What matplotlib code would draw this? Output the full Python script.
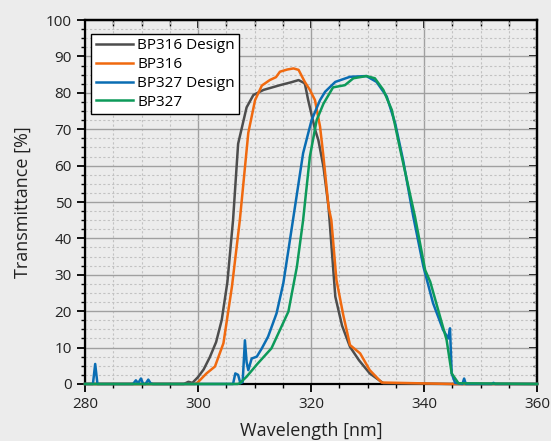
import matplotlib
matplotlib.use("Agg")
import matplotlib.pyplot as plt
from matplotlib.ticker import MultipleLocator

plt.rcParams["font.family"] = ["Open Sans", "DejaVu Sans"]

# BP316 Design (gray)
wl_316d = [280, 297.5, 298.3, 299.0, 300, 301, 302.1, 303.2, 304.2, 305.2, 306.2, 307.1,
           308.6, 309.8, 311.6, 314.5, 316.5, 317.8, 318.9, 319.5, 320.7, 321.3, 322.2,
           323.1, 324.3, 325.5, 326.9, 328.5, 330.4, 332.8, 345, 360]
t_316d = [0, 0, 0.6, 0.3, 1.9, 4.0, 7.4, 11.5, 17.6, 28, 45, 66,
          76, 79.4, 80.8, 82.1, 82.9, 83.5, 82.6, 78, 70, 67, 59.7,
          48.7, 24, 16, 10.2, 6.5, 2.9, 0.2, 0, 0]

# BP316 (orange)
wl_316 = [280, 299.5, 300, 301.5, 303, 304.5, 306, 307.4, 308.9, 310.1, 311.3, 312.7,
          313.8, 314.5, 315.8, 316.9, 317.8, 318.9, 319.8, 320.7, 321.6, 322.2, 323.1,
          323.6, 324.5, 325.7, 326.9, 328.7, 330.4, 332.5, 345, 360]
t_316 = [0, 0, 0.5, 2.9, 4.8, 11.2, 26.7, 45, 69, 78, 82, 83.5,
         84.3, 85.8, 86.4, 86.7, 86.3, 83, 80.8, 78, 70.7, 62.5, 48.7,
         45, 28.6, 19, 10.7, 8.4, 3.8, 0.4, 0, 0]

# BP327 Design (blue), with measurement noise spikes
wl_327d = [280, 281.4, 281.8, 282.2, 288.5, 289, 289.4, 289.9, 290.3, 290.7, 291.2,
           291.6, 292.0, 306.2, 306.6, 307.1, 307.5, 307.9, 308.3, 308.6, 308.9,
           309.5, 310.4, 311.3, 312.4, 313.9, 315.1, 316.0, 316.9, 318.6, 320.1,
           321.6, 322.5, 324.3, 326.9, 329.8, 331.6, 333.4, 334.9, 336.3, 338.1,
           339.9, 341.6, 343.4, 344.3, 344.6, 344.9, 345.5, 346.8, 347.1, 347.4,
           352, 352.3, 352.6, 360]
t_327d = [0, 0, 5.5, 0, 0, 1.0, 0.2, 1.5, 0, 0, 1.2,
          0.2, 0, 0, 2.9, 2.5, 0.2, 0.5, 12, 6, 3.8,
          7, 7.5, 9.8, 13, 19.4, 27.7, 36.8, 46, 63.4, 72.5,
          78, 80.3, 83, 84.4, 84.6, 83, 79, 71.6, 61.5, 46,
          32.2, 22.2, 14.8, 12.5, 15.3, 2.9, 0.3, 0, 1.5, 0,
          0, 0.3, 0, 0]

# BP327 (green)
wl_327 = [280, 307.0, 307.4, 308.6, 310.5, 313, 316, 317.5, 318.6, 319.8, 321,
          322.2, 323.9, 326, 327.5, 329.8, 331.3, 332.8, 334.3, 335.8, 338.4,
          340.2, 341.1, 344.0, 344.9, 346.1, 360]
t_327 = [0, 0, 0.2, 2, 5.5, 9.8, 19.9, 32.2, 45, 62.5, 72.5,
         77, 81.5, 82.1, 84, 84.6, 84, 80.8, 75.3, 64.3, 46,
         31.3, 28.1, 12.1, 2.9, 0.2, 0]

bg = "#ececec"
fig = plt.figure(figsize=(5.51, 4.41), dpi=100, facecolor=bg)
ax = fig.add_axes([0.1543, 0.1293, 0.8203, 0.8253], facecolor=bg)

ax.plot(wl_316d, t_316d, color="#4d4d4d", lw=1.8, label="BP316 Design", clip_on=False, zorder=3)
ax.plot(wl_316, t_316, color="#f0690f", lw=1.8, label="BP316", clip_on=False, zorder=3)
ax.plot(wl_327d, t_327d, color="#0a6db3", lw=1.8, label="BP327 Design", clip_on=False, zorder=3)
ax.plot(wl_327, t_327, color="#0d9a5a", lw=1.8, label="BP327", clip_on=False, zorder=3)

ax.set_xlim(280, 360)
ax.set_ylim(0, 100)
ax.xaxis.set_major_locator(MultipleLocator(20))
ax.xaxis.set_minor_locator(MultipleLocator(5))
ax.yaxis.set_major_locator(MultipleLocator(10))
ax.yaxis.set_minor_locator(MultipleLocator(2.5))

ax.grid(True, which="major", color="#a0a0a0", lw=1.0, ls="-")
ax.grid(True, which="minor", color="#c2c2c2", lw=0.8, ls=(0, (2, 2)))
ax.set_axisbelow(True)

for s in ax.spines.values():
    s.set_linewidth(1.6)
    s.set_color("black")

ax.tick_params(which="major", direction="out", length=6, width=1.3, labelsize=11, colors="black",
               labelcolor="#222222")
ax.tick_params(which="minor", direction="out", length=3, width=1.0)

# inward ticks on top and right
top = ax.secondary_xaxis("top")
top.xaxis.set_major_locator(MultipleLocator(20))
top.xaxis.set_minor_locator(MultipleLocator(5))
top.tick_params(which="major", direction="in", length=6, width=1.3, labeltop=False)
top.tick_params(which="minor", direction="in", length=4, width=1.0)
top.spines["top"].set_linewidth(1.6)
right = ax.secondary_yaxis("right")
right.yaxis.set_major_locator(MultipleLocator(10))
right.yaxis.set_minor_locator(MultipleLocator(2.5))
right.tick_params(which="major", direction="in", length=6, width=1.3, labelright=False)
right.tick_params(which="minor", direction="in", length=3, width=1.0)
right.spines["right"].set_linewidth(1.6)

ax.set_xlabel("Wavelength [nm]", fontsize=13, labelpad=7, color="#222222")
ax.set_ylabel("Transmittance [%]", fontsize=13, labelpad=10, color="#222222")

leg = ax.legend(loc="upper left", bbox_to_anchor=(0.004, 0.975), fontsize=11, frameon=True,
                fancybox=False, framealpha=1, edgecolor="black", handlelength=2.4,
                borderpad=0.3, labelspacing=0.25, handletextpad=0.3, borderaxespad=0.3)
leg.get_frame().set_linewidth(1.0)

fig.savefig("out.png", dpi=100, facecolor=bg)
